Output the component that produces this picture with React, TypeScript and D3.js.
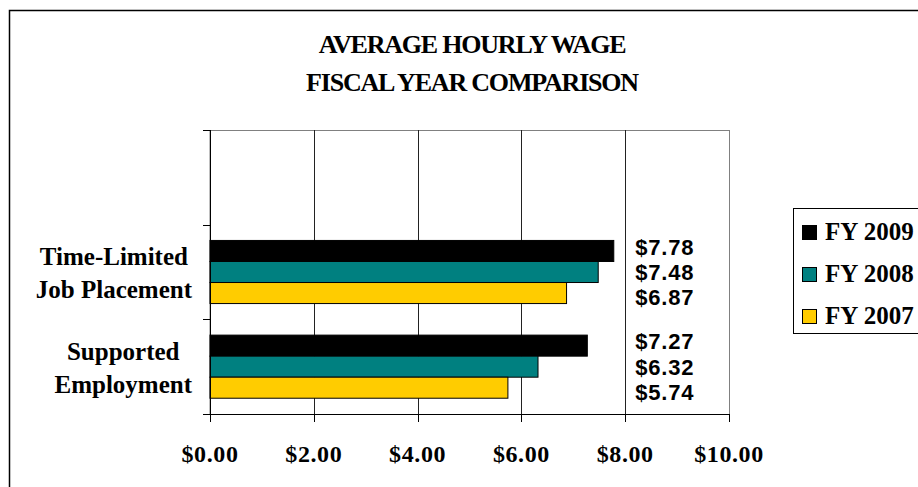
import { useEffect, useRef } from "react";
import * as d3 from "d3";

// categories, top to bottom (the top slot is an empty category)
const categories = ["", "Time-Limited Job Placement", "Supported Employment"];
const categoryLines = [[], ["Time-Limited", "Job Placement"], ["Supported", "Employment"]];

const seriesNames = ["FY 2009", "FY 2008", "FY 2007"];
const fy2009 = [NaN, 7.78, 7.27];
const fy2008 = [NaN, 7.48, 6.32];
const fy2007 = [NaN, 6.87, 5.74];
const seriesColors = ["#000000", "#008080", "#FFCC00"];

const xTicks = [0, 2, 4, 6, 8, 10];
const titleLines = ["AVERAGE HOURLY WAGE", "FISCAL YEAR COMPARISON"];

const W = 918;
const H = 487;
const serif = "'Liberation Serif', 'Times New Roman', serif";
const sans = "'Liberation Sans', Arial, sans-serif";

export default function App() {
  const svgRef = useRef<SVGSVGElement>(null);

  useEffect(() => {
    if (!svgRef.current) return;
    const svg = d3.select(svgRef.current);
    svg.selectAll("*").remove();

    const left = 210, right = 729, top = 130, bottom = 414;
    const values = [fy2009, fy2008, fy2007];

    const x = d3.scaleLinear().domain([0, 10]).range([left, right]);
    const y = d3.scaleBand<string>().domain(categories).range([top, bottom]);
    const ySub = d3
      .scaleBand<string>()
      .domain(seriesNames)
      .range([0, y.bandwidth()])
      .paddingOuter(0.75);

    // outer chart frame (extends past the window on the right/bottom)
    svg.append("rect")
      .attr("x", 9.5).attr("y", 10.5)
      .attr("width", 1000).attr("height", 600)
      .attr("fill", "#fff").attr("stroke", "#000").attr("stroke-width", 1.5);

    // title
    titleLines.forEach((t, i) => {
      svg.append("text")
        .attr("x", 472).attr("y", 53 + i * 38)
        .attr("text-anchor", "middle")
        .attr("font-family", serif).attr("font-weight", "bold")
        .attr("font-size", "26px").attr("letter-spacing", "-1.2px")
        .text(t);
    });

    // plot border
    svg.append("rect")
      .attr("x", left).attr("y", top + 0.5)
      .attr("width", right - left + 0.5).attr("height", bottom - top)
      .attr("fill", "none").attr("stroke", "#808080");

    // vertical gridlines
    svg.append("g").selectAll("line")
      .data(xTicks.slice(1, -1))
      .enter().append("line")
      .attr("x1", (d) => Math.round(x(d)) + 0.5).attr("x2", (d) => Math.round(x(d)) + 0.5)
      .attr("y1", top).attr("y2", bottom)
      .attr("stroke", "#222");

    // bars
    values.forEach((vals, si) => {
      svg.append("g").selectAll("rect")
        .data(categories.map((c, ci) => ({ c, v: vals[ci] })).filter((d) => !isNaN(d.v)))
        .enter().append("rect")
        .attr("x", x(0))
        .attr("y", (d) => y(d.c)! + ySub(seriesNames[si])!)
        .attr("width", (d) => x(d.v) - x(0))
        .attr("height", ySub.bandwidth())
        .attr("fill", seriesColors[si])
        .attr("stroke", "#000").attr("stroke-width", 1);
    });

    // value labels, stacked in a column right of the $8 gridline
    values.forEach((vals, si) => {
      categories.forEach((c, ci) => {
        const v = vals[ci];
        if (isNaN(v)) return;
        const mid = y(c)! + y.bandwidth() / 2;
        const barMid = y(c)! + ySub(seriesNames[si])! + ySub.bandwidth() / 2;
        svg.append("text")
          .attr("x", x(8) + 10)
          .attr("y", mid + (barMid - mid) * 1.2)
          .attr("dy", "0.36em")
          .attr("font-family", sans).attr("font-weight", "bold")
          .attr("font-size", "22px").attr("letter-spacing", "0.8px")
          .text(d3.format("$.2f")(v));
      });
    });

    // y axis line + ticks at band boundaries
    svg.append("line")
      .attr("x1", left + 0.5).attr("x2", left + 0.5)
      .attr("y1", top).attr("y2", bottom + 7)
      .attr("stroke", "#000");
    const boundaries = categories.map((c) => y(c)!).concat([bottom]);
    svg.append("g").selectAll("line")
      .data(boundaries)
      .enter().append("line")
      .attr("x1", left - 7).attr("x2", left)
      .attr("y1", (d) => Math.round(d) + 0.5).attr("y2", (d) => Math.round(d) + 0.5)
      .attr("stroke", "#000");

    // x axis line + ticks
    svg.append("line")
      .attr("x1", left - 7).attr("x2", right + 1)
      .attr("y1", bottom + 0.5).attr("y2", bottom + 0.5)
      .attr("stroke", "#000");
    svg.append("g").selectAll("line")
      .data(xTicks)
      .enter().append("line")
      .attr("x1", (d) => Math.round(x(d)) + 0.5).attr("x2", (d) => Math.round(x(d)) + 0.5)
      .attr("y1", bottom).attr("y2", bottom + 8)
      .attr("stroke", "#000");
    svg.append("g").selectAll("text")
      .data(xTicks)
      .enter().append("text")
      .attr("x", (d) => x(d))
      .attr("y", 462)
      .attr("text-anchor", "middle")
      .attr("font-family", serif).attr("font-weight", "bold")
      .attr("font-size", "24px").attr("letter-spacing", "0.6px")
      .text((d) => d3.format("$.2f")(d));

    // category labels: centred lines, block right-aligned to the axis
    categories.forEach((c, ci) => {
      const lines = categoryLines[ci];
      if (!lines.length) return;
      const mid = y(c)! + y.bandwidth() / 2;
      const g = svg.append("g");
      const texts = lines.map((l, li) =>
        g.append("text")
          .attr("y", mid - 7 + li * 33)
          .attr("text-anchor", "middle")
          .attr("font-family", serif).attr("font-weight", "bold")
          .attr("font-size", "25px")
          .text(l)
      );
      const maxW = d3.max(texts, (t) => (t.node() as SVGTextElement).getComputedTextLength()) || 0;
      texts.forEach((t) => t.attr("x", 192 - maxW / 2));
    });

    // legend
    svg.append("rect")
      .attr("x", 793.5).attr("y", 208.5)
      .attr("width", 200).attr("height", 125)
      .attr("fill", "#fff").attr("stroke", "#000");
    seriesNames.forEach((s, i) => {
      svg.append("rect")
        .attr("x", 802.5).attr("y", 225.5 + i * 42)
        .attr("width", 14).attr("height", 14)
        .attr("fill", seriesColors[i]).attr("stroke", "#000");
      svg.append("text")
        .attr("x", 825).attr("y", 240 + i * 42)
        .attr("font-family", serif).attr("font-weight", "bold")
        .attr("font-size", "25px")
        .text(s);
    });
  }, []);

  return (
    <svg
      ref={svgRef}
      width={W}
      height={H}
      style={{ position: "absolute", left: 0, top: 0, background: "#fff" }}
      role="img"
      aria-label="Average hourly wage fiscal year comparison bar chart"
    />
  );
}
